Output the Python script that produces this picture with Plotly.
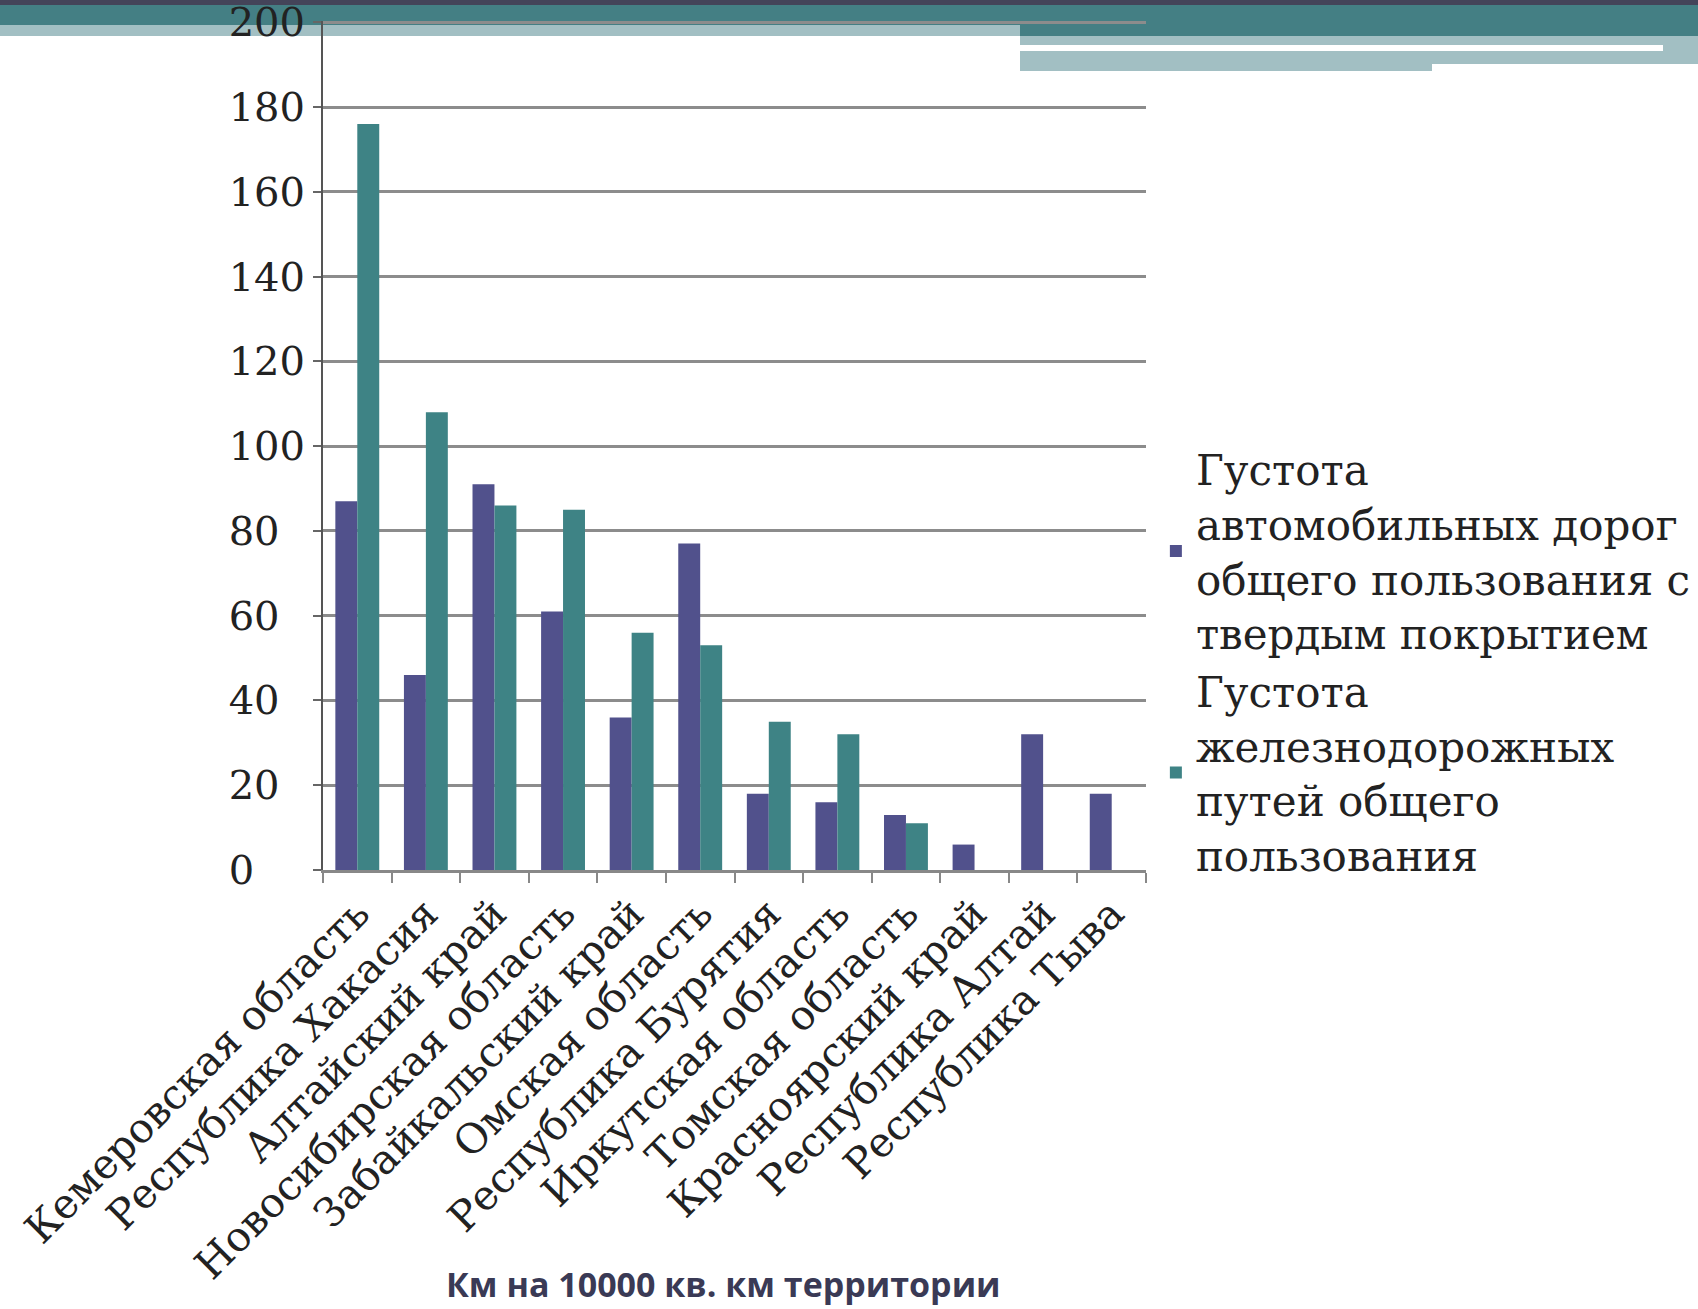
import plotly.graph_objects as go

categories = ["Кемеровская область", "Республика Хакасия", "Алтайский край",
              "Новосибирская область", "Забайкальский край", "Омская область",
              "Республика Бурятия", "Иркутская область", "Томская область",
              "Красноярский край", "Республика Алтай", "Республика Тыва"]
roads = [87, 46, 91, 61, 36, 77, 18, 16, 13, 6, 32, 18]
rails = [176, 108, 86, 85, 56, 53, 35, 32, 11, None, None, None]
series_names = ["Густота<br>автомобильных дорог<br>общего пользования с<br>твердым покрытием",
                "Густота<br>железнодорожных<br>путей общего<br>пользования"]
y_ticks = [0, 20, 40, 60, 80, 100, 120, 140, 160, 180, 200]
x_title = "Км на 10000 кв. км территории"

W, H = 1698, 1309
L, R, T, B = 323, 1146, 21, 870

fig = go.Figure()
fig.add_trace(go.Bar(x=categories, y=roads, name=series_names[0],
                     marker=dict(color="#51518C", line=dict(width=0))))
fig.add_trace(go.Bar(x=categories, y=rails, name=series_names[1],
                     marker=dict(color="#3E8385", line=dict(width=0))))


def band(x0, x1, y0, y1, color):
    return dict(type="rect", xref="paper", yref="paper",
                x0=(x0-L)/(R-L), x1=(x1-L)/(R-L),
                y0=(B-y1)/(B-T), y1=(B-y0)/(B-T),
                fillcolor=color, line_width=0, layer="below")


shapes = [
    band(0, W, 0, 5, "#444459"),
    band(0, W, 5, 25, "#447F84"),
    band(0, 1020, 25, 36, "#A2BFC3"),
    band(1020, W, 25, 36, "#447F84"),
    band(1020, W, 36, 45, "#A2BFC3"),
    band(1663, W, 45, 51, "#A2BFC3"),
    band(1020, W, 51, 64, "#A2BFC3"),
    band(1020, 1432, 64, 71, "#A2BFC3"),
]

FS = "\u2007"  # figure space, keeps labels left-aligned like the reference
tick_text = [str(v) + FS * (3 - len(str(v))) for v in y_ticks]

fig.update_layout(
    width=W, height=H,
    margin=dict(l=L, r=W-R, t=T, b=H-B, autoexpand=False),
    paper_bgcolor="white", plot_bgcolor="rgba(0,0,0,0)",
    barmode="group", bargap=0.36, bargroupgap=0,
    font=dict(family="DejaVu Serif", size=36, color="#222222"),
    showlegend=True,
    legend=dict(x=1.012, y=0.512, xanchor="left", yanchor="top",
                font=dict(family="DejaVu Serif", size=42, color="#222222"),
                bgcolor="rgba(0,0,0,0)", tracegroupgap=0, itemwidth=30),
    shapes=shapes,
    annotations=[dict(text="<b>" + x_title + "</b>", xref="paper", yref="paper",
                      x=(723-L)/(R-L), y=(B-1284)/(B-T), xanchor="center", yanchor="middle",
                      showarrow=False,
                      font=dict(family="Open Sans", size=34, color="#3A3A55"))],
)
fig.update_xaxes(
    type="category", tickangle=-45, tickson="boundaries",
    ticks="outside", ticklen=10, tickcolor="#888888", tickwidth=2,
    showline=True, linecolor="#888888", linewidth=3,
    tickfont=dict(family="DejaVu Serif", size=41, color="#222222"),
    showgrid=False,
)
fig.update_yaxes(
    range=[0, 200.3], tickvals=y_ticks, ticktext=tick_text,
    ticks="outside", ticklen=8, tickcolor="#666666", tickwidth=2,
    showline=True, linecolor="#555555", linewidth=2,
    showgrid=True, gridcolor="#8C8C8C", gridwidth=3,
    tickfont=dict(family="DejaVu Serif", size=40, color="#222222"),
    ticklabeloverflow="allow",
    zeroline=False,
)
fig.write_html("out.html", config={"displayModeBar": False},
               post_script="document.body.style.margin='0';document.body.style.overflow='hidden';")
